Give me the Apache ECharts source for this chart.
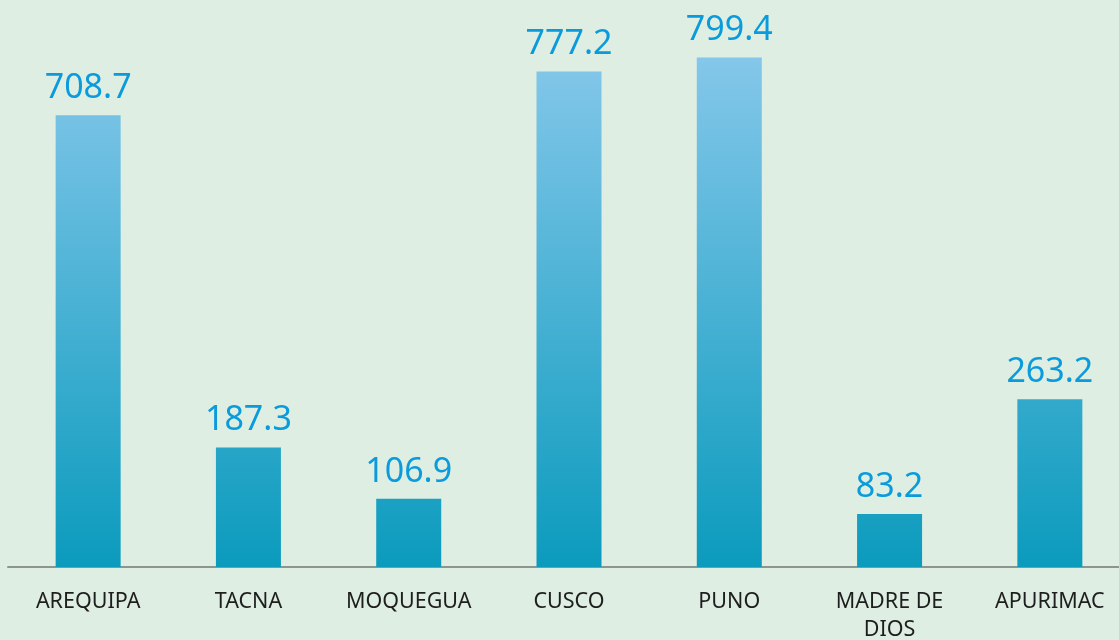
<!DOCTYPE html>
<html><head><meta charset="utf-8">
<script src="https://cdn.jsdelivr.net/npm/echarts@6/dist/echarts.min.js"></script>
<style>html,body{margin:0;padding:0;background:#deeee2;}#c{width:1119px;height:640px;}</style>
</head><body><div id="c"></div>
<script>
const categories = ["AREQUIPA", "TACNA", "MOQUEGUA", "CUSCO", "PUNO", "MADRE DE\nDIOS", "APURIMAC"];
const values = [708.7, 187.3, 106.9, 777.2, 799.4, 83.2, 263.2];

const chart = echarts.init(document.getElementById('c'));
chart.setOption({
  backgroundColor: '#deeee2',
  animation: false,
  grid: { left: 8, width: 1122, top: 57, bottom: 73, containLabel: false, outerBoundsMode: 'none' },
  xAxis: {
    type: 'category',
    data: categories,
    axisLine: { lineStyle: { color: '#8e9590', width: 2 } },
    axisTick: { show: false },
    axisLabel: { color: '#1e1e1e', fontFamily: 'Noto Sans', fontSize: 21.5, margin: 21, lineHeight: 28, interval: 0 }
  },
  yAxis: {
    type: 'value', min: 0, max: 800,
    show: false, splitLine: { show: false }
  },
  series: [{
    type: 'bar',
    data: values,
    barWidth: 65,
    itemStyle: {
      color: new echarts.graphic.LinearGradient(0, 57, 0, 567, [
        { offset: 0, color: '#84c7ea' },
        { offset: 1, color: '#0b9bbd' }
      ], true)
    },
    label: {
      show: true, position: 'top', distance: 10,
      color: '#0a9bdc', fontFamily: 'Noto Sans', fontSize: 34,
      formatter: p => p.value.toFixed(1)
    }
  }]
});
</script></body></html>
